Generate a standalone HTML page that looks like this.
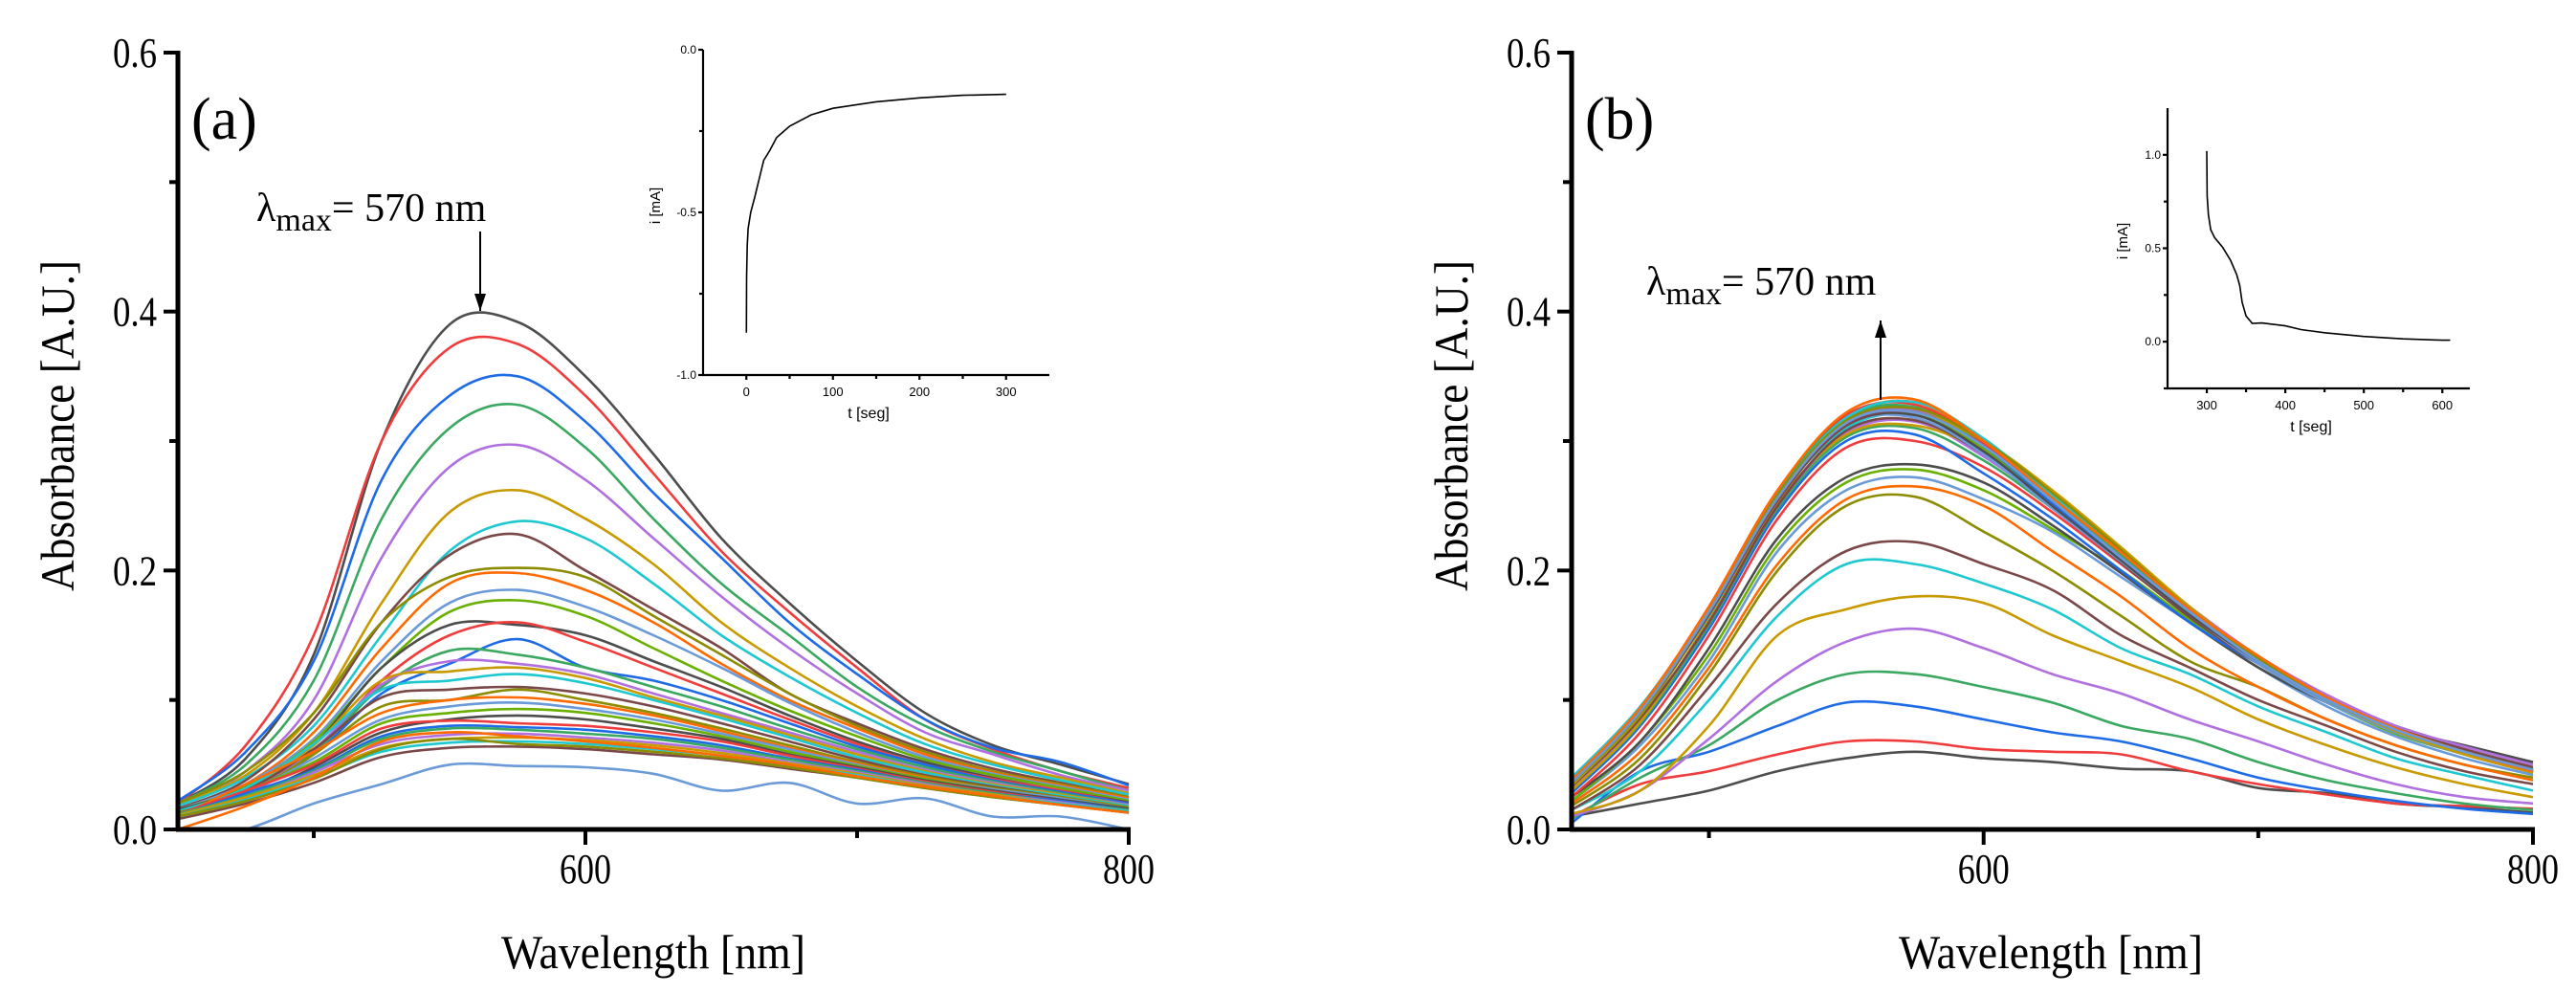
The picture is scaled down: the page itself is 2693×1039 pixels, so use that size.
<!DOCTYPE html>
<html><head><meta charset="utf-8">
<style>
html,body{margin:0;padding:0;background:#fff;}
svg{display:block;}
text{font-family:"Liberation Serif",serif;fill:#000;}
.sans{font-family:"Liberation Sans",sans-serif;}
</style></head>
<body>
<svg id="fig" width="2693" height="1039" viewBox="0 0 2693 1039" xmlns="http://www.w3.org/2000/svg">
<defs>
<clipPath id="clipA"><rect x="186" y="40" width="996" height="827"/></clipPath>
<clipPath id="clipB"><rect x="1643" y="40" width="1007" height="827"/></clipPath>
</defs>
<g id="panelA"></g>
<g id="panelB"></g>
<g id="insetA"></g>
<g id="insetB"></g>
</svg>
<script>
// ---------- data ----------
const wavelengths = [450,475,500,525,550,575,600,625,650,675,700,725,750,775,800];
const palette = ['#4d4d4d','#f03c3c','#1e6be8','#3aa860','#b070e0','#c89a00','#1ec8d0','#7a4848','#8c8c00','#ff6a00','#6a9ad8','#6ab000'];
const spectraA = [
[0.020,0.055,0.135,0.300,0.390,0.392,0.350,0.290,0.225,0.175,0.130,0.090,0.065,0.050,0.035],
[0.020,0.065,0.150,0.300,0.372,0.375,0.335,0.275,0.215,0.168,0.125,0.085,0.062,0.045,0.032],
[0.022,0.060,0.130,0.270,0.335,0.350,0.315,0.260,0.210,0.160,0.120,0.085,0.063,0.052,0.034],
[0.020,0.050,0.115,0.240,0.310,0.328,0.295,0.240,0.190,0.150,0.110,0.080,0.060,0.045,0.030],
[0.018,0.045,0.100,0.210,0.280,0.297,0.270,0.225,0.180,0.140,0.105,0.075,0.058,0.042,0.030],
[0.020,0.042,0.090,0.175,0.245,0.262,0.240,0.205,0.160,0.125,0.095,0.070,0.052,0.040,0.028],
[0.018,0.040,0.080,0.150,0.215,0.238,0.225,0.190,0.150,0.118,0.090,0.066,0.050,0.038,0.027],
[0.016,0.038,0.085,0.160,0.212,0.228,0.200,0.170,0.140,0.105,0.082,0.062,0.047,0.036,0.025],
[0.020,0.045,0.090,0.160,0.195,0.202,0.195,0.165,0.135,0.105,0.080,0.060,0.045,0.035,0.025],
[0.015,0.035,0.075,0.140,0.190,0.198,0.185,0.160,0.128,0.100,0.078,0.058,0.044,0.034,0.024],
[0.015,0.035,0.070,0.130,0.175,0.185,0.172,0.150,0.125,0.098,0.075,0.056,0.043,0.033,0.023],
[0.015,0.033,0.068,0.125,0.168,0.177,0.165,0.140,0.115,0.092,0.072,0.054,0.042,0.032,0.022],
[0.015,0.032,0.065,0.125,0.158,0.158,0.150,0.130,0.110,0.088,0.068,0.052,0.040,0.030,0.021],
[0.014,0.030,0.060,0.115,0.150,0.160,0.145,0.125,0.105,0.085,0.066,0.050,0.039,0.030,0.020],
[0.014,0.030,0.058,0.105,0.128,0.147,0.125,0.115,0.100,0.082,0.064,0.050,0.038,0.029,0.020],
[0.013,0.030,0.060,0.110,0.138,0.135,0.125,0.110,0.095,0.078,0.062,0.048,0.037,0.028,0.019],
[0.013,0.030,0.062,0.112,0.130,0.128,0.120,0.105,0.090,0.075,0.060,0.046,0.036,0.027,0.019],
[0.013,0.030,0.065,0.115,0.122,0.125,0.117,0.102,0.088,0.073,0.058,0.045,0.035,0.027,0.018],
[0.014,0.032,0.066,0.108,0.115,0.120,0.113,0.100,0.086,0.071,0.056,0.044,0.034,0.026,0.018],
[0.012,0.030,0.062,0.102,0.108,0.110,0.105,0.095,0.082,0.068,0.054,0.042,0.033,0.025,0.017],
[0.013,0.028,0.058,0.095,0.100,0.108,0.100,0.090,0.078,0.065,0.052,0.041,0.032,0.025,0.017],
[0.010,0.035,0.060,0.090,0.100,0.102,0.097,0.088,0.076,0.063,0.051,0.040,0.031,0.024,0.016],
[0.012,0.028,0.055,0.085,0.095,0.098,0.093,0.085,0.074,0.062,0.050,0.039,0.031,0.024,0.016],
[0.012,0.030,0.052,0.082,0.090,0.093,0.090,0.082,0.072,0.060,0.049,0.039,0.030,0.023,0.016],
[0.010,0.025,0.048,0.075,0.085,0.088,0.085,0.078,0.070,0.058,0.048,0.038,0.030,0.023,0.016],
[0.012,0.030,0.050,0.078,0.084,0.082,0.080,0.075,0.068,0.057,0.047,0.037,0.029,0.022,0.015],
[0.011,0.028,0.046,0.072,0.080,0.079,0.077,0.072,0.065,0.055,0.046,0.036,0.028,0.022,0.015],
[0.012,0.026,0.045,0.070,0.078,0.077,0.074,0.070,0.063,0.054,0.045,0.036,0.028,0.021,0.015],
[0.010,0.024,0.044,0.066,0.073,0.074,0.071,0.067,0.061,0.052,0.044,0.035,0.027,0.021,0.014],
[0.011,0.025,0.042,0.063,0.070,0.071,0.069,0.065,0.059,0.051,0.043,0.034,0.027,0.020,0.014],
[0.010,0.023,0.040,0.060,0.067,0.068,0.066,0.062,0.057,0.049,0.042,0.033,0.026,0.020,0.014],
[0.008,0.020,0.036,0.056,0.063,0.064,0.062,0.058,0.054,0.047,0.040,0.032,0.025,0.019,0.013],
[0.010,0.022,0.039,0.062,0.070,0.066,0.064,0.060,0.055,0.048,0.040,0.032,0.025,0.019,0.013],
[0.000,0.018,0.040,0.068,0.075,0.072,0.068,0.063,0.057,0.050,0.041,0.033,0.026,0.019,0.013],
[-0.010,0.000,0.020,0.035,0.050,0.049,0.048,0.043,0.030,0.036,0.020,0.024,0.010,0.010,0.000]
];
const spectraB = [
[0.010,0.020,0.030,0.045,0.055,0.060,0.055,0.052,0.047,0.045,0.032,0.028,0.020,0.017,0.013],
[0.010,0.035,0.045,0.058,0.068,0.068,0.062,0.060,0.058,0.045,0.035,0.027,0.020,0.018,0.016],
[0.005,0.045,0.060,0.080,0.098,0.095,0.085,0.075,0.068,0.055,0.040,0.030,0.022,0.016,0.012],
[0.008,0.040,0.065,0.100,0.120,0.120,0.110,0.098,0.080,0.070,0.052,0.038,0.028,0.020,0.015],
[0.010,0.030,0.070,0.115,0.145,0.155,0.140,0.120,0.105,0.085,0.068,0.050,0.035,0.025,0.020],
[0.012,0.030,0.080,0.150,0.170,0.180,0.175,0.150,0.130,0.110,0.085,0.065,0.048,0.035,0.025],
[0.015,0.045,0.100,0.165,0.205,0.205,0.190,0.170,0.140,0.120,0.095,0.075,0.055,0.042,0.030],
[0.015,0.050,0.110,0.175,0.215,0.222,0.205,0.185,0.150,0.125,0.100,0.080,0.060,0.045,0.035],
[0.018,0.055,0.120,0.200,0.250,0.257,0.230,0.200,0.165,0.130,0.110,0.085,0.065,0.050,0.040],
[0.020,0.060,0.125,0.205,0.255,0.265,0.250,0.215,0.180,0.140,0.110,0.085,0.065,0.050,0.038],
[0.022,0.065,0.130,0.215,0.262,0.272,0.255,0.230,0.195,0.160,0.125,0.095,0.072,0.055,0.042],
[0.022,0.068,0.135,0.220,0.268,0.278,0.262,0.232,0.200,0.162,0.128,0.098,0.074,0.058,0.044],
[0.025,0.068,0.140,0.225,0.272,0.282,0.268,0.235,0.198,0.160,0.125,0.098,0.078,0.065,0.052],
[0.025,0.075,0.150,0.240,0.295,0.300,0.280,0.245,0.205,0.165,0.130,0.100,0.077,0.060,0.045],
[0.028,0.080,0.155,0.245,0.300,0.305,0.275,0.240,0.200,0.160,0.128,0.100,0.077,0.060,0.046],
[0.030,0.082,0.158,0.248,0.303,0.310,0.285,0.248,0.207,0.166,0.130,0.100,0.077,0.060,0.046],
[0.032,0.085,0.160,0.250,0.306,0.315,0.288,0.250,0.208,0.165,0.128,0.100,0.078,0.062,0.047],
[0.030,0.083,0.162,0.252,0.305,0.312,0.292,0.255,0.212,0.168,0.130,0.098,0.076,0.058,0.044],
[0.035,0.090,0.165,0.255,0.310,0.320,0.292,0.252,0.212,0.165,0.128,0.098,0.075,0.058,0.045],
[0.033,0.086,0.160,0.250,0.308,0.316,0.290,0.250,0.206,0.164,0.128,0.099,0.077,0.060,0.046],
[0.034,0.088,0.166,0.256,0.312,0.322,0.296,0.258,0.214,0.170,0.132,0.100,0.077,0.059,0.045],
[0.036,0.092,0.170,0.260,0.318,0.330,0.298,0.252,0.210,0.168,0.130,0.100,0.076,0.058,0.044],
[0.035,0.090,0.166,0.255,0.312,0.318,0.290,0.248,0.207,0.166,0.128,0.098,0.075,0.058,0.045],
[0.036,0.091,0.170,0.258,0.315,0.322,0.294,0.254,0.212,0.168,0.131,0.100,0.077,0.060,0.046],
[0.038,0.092,0.168,0.255,0.312,0.320,0.292,0.250,0.208,0.166,0.130,0.101,0.080,0.064,0.052],
[0.036,0.093,0.172,0.262,0.320,0.328,0.298,0.256,0.214,0.170,0.134,0.102,0.078,0.060,0.045],
[0.036,0.090,0.168,0.256,0.314,0.324,0.296,0.252,0.210,0.168,0.130,0.100,0.076,0.058,0.044],
[0.037,0.092,0.170,0.260,0.318,0.326,0.296,0.254,0.212,0.168,0.132,0.100,0.077,0.060,0.046],
[0.035,0.090,0.168,0.258,0.316,0.324,0.300,0.258,0.214,0.172,0.134,0.104,0.080,0.064,0.050],
[0.034,0.089,0.166,0.256,0.314,0.322,0.300,0.262,0.218,0.172,0.132,0.100,0.076,0.058,0.044],
[0.040,0.095,0.170,0.258,0.318,0.330,0.302,0.258,0.215,0.170,0.132,0.101,0.078,0.060,0.046],
[0.036,0.090,0.166,0.254,0.312,0.322,0.296,0.254,0.210,0.168,0.130,0.100,0.078,0.062,0.048],
[0.035,0.090,0.168,0.258,0.316,0.325,0.300,0.260,0.216,0.170,0.132,0.100,0.077,0.060,0.046],
[0.038,0.094,0.172,0.262,0.322,0.332,0.300,0.256,0.214,0.170,0.134,0.102,0.078,0.060,0.045],
[0.036,0.091,0.168,0.256,0.314,0.322,0.296,0.254,0.210,0.168,0.130,0.100,0.077,0.060,0.046]
];
const yTicksMain = [0.0,0.2,0.4,0.6];
const yMinorMain = [0.1,0.3,0.5];
const xTicksMain = [600,800];
const xMinorMain = [500,700];
// inset (a) chronoamperogram
const insetATime = [0,0.3,1,2,5,10,20,27,35,50,75,100,150,200,250,300];
const insetACurrent = [-0.87,-0.70,-0.60,-0.55,-0.50,-0.45,-0.34,-0.31,-0.27,-0.235,-0.20,-0.18,-0.16,-0.148,-0.14,-0.137];
const insetAXTicks = [0,100,200,300];
const insetAYTicks = [0.0,-0.5,-1.0];
// inset (b) chronoamperogram
const insetBTime = [300,300.5,302,305,310,320,330,338,342,345,350,358,370,400,420,450,500,550,600,610];
const insetBCurrent = [1.02,0.78,0.68,0.60,0.557,0.506,0.437,0.36,0.30,0.21,0.137,0.098,0.10,0.085,0.065,0.048,0.028,0.015,0.008,0.008];
const insetBXTicks = [300,400,500,600];
const insetBYTicks = [0.0,0.5,1.0];

// ---------- helpers ----------
const NS='http://www.w3.org/2000/svg';
function mk(tag, attrs, parent){const e=document.createElementNS(NS,tag);for(const k in attrs)e.setAttribute(k,attrs[k]);parent.appendChild(e);return e;}
function smoothPath(pts){
  let d='M'+pts[0][0].toFixed(1)+','+pts[0][1].toFixed(1);
  for(let i=0;i<pts.length-1;i++){
    const p0=pts[Math.max(0,i-1)],p1=pts[i],p2=pts[i+1],p3=pts[Math.min(pts.length-1,i+2)];
    const c1=[p1[0]+(p2[0]-p0[0])/6,p1[1]+(p2[1]-p0[1])/6];
    const c2=[p2[0]-(p3[0]-p1[0])/6,p2[1]-(p3[1]-p1[1])/6];
    d+=' C'+c1[0].toFixed(1)+','+c1[1].toFixed(1)+' '+c2[0].toFixed(1)+','+c2[1].toFixed(1)+' '+p2[0].toFixed(1)+','+p2[1].toFixed(1);
  }
  return d;
}

function drawMain(g, cfg, spectra, label, lx, ly, arrowDir){
  const xs=v=>cfg.x0+(v-450)/(800-450)*(cfg.x1-cfg.x0);
  const ys=v=>cfg.y0-(v/0.6)*(cfg.y0-cfg.y6);
  const lines=mk('g',{'clip-path':'url(#'+cfg.clip+')'},g);
  
  
  spectra.forEach((s,i)=>{
    const pts=s.map((v,j)=>[xs(wavelengths[j]),ys(v)]);
    const p=mk('path',{d:smoothPath(pts),fill:'none',stroke:palette[i%palette.length],'stroke-width':2.6,'stroke-linejoin':'round'},lines);
    
    
  });
  const ax=mk('g',{stroke:'#000','stroke-width':5,fill:'none'},g);
  
  
  mk('line',{x1:cfg.x0,y1:cfg.y6-2,x2:cfg.x0,y2:cfg.y0+2},ax);
  mk('line',{x1:cfg.x0-2,y1:cfg.y0,x2:cfg.x1+2,y2:cfg.y0},ax);
  yTicksMain.forEach(v=>{
    mk('line',{x1:cfg.x0-15,y1:ys(v),x2:cfg.x0,y2:ys(v),'stroke-width':4},ax);
    const t=mk('text',{x:cfg.x0-22,y:ys(v)+15,'font-size':44,'text-anchor':'end',textLength:46,lengthAdjust:'spacingAndGlyphs'},g);
    t.textContent=v.toFixed(1);
    
    
  });
  yMinorMain.forEach(v=>mk('line',{x1:cfg.x0-9,y1:ys(v),x2:cfg.x0,y2:ys(v),'stroke-width':4},ax));
  xTicksMain.forEach(v=>{
    mk('line',{x1:xs(v),y1:cfg.y0,x2:xs(v),y2:cfg.y0+16,'stroke-width':4},ax);
    const t=mk('text',{x:xs(v),y:cfg.y0+56,'font-size':44,'text-anchor':'middle',textLength:54,lengthAdjust:'spacingAndGlyphs'},g);
    t.textContent=String(v);
    
    
  });
  xMinorMain.forEach(v=>mk('line',{x1:xs(v),y1:cfg.y0,x2:xs(v),y2:cfg.y0+9,'stroke-width':4},ax));
  const xt=mk('text',{x:cfg.xtx,y:1012,'font-size':50,textLength:318,lengthAdjust:'spacingAndGlyphs'},g);
  xt.textContent='Wavelength [nm]';
  
  
  const yt=mk('text',{x:0,y:0,'font-size':50,'text-anchor':'middle',textLength:346,lengthAdjust:'spacingAndGlyphs',transform:'translate('+cfg.ytx+',445) rotate(-90)'},g);
  yt.textContent='Absorbance [A.U.]';
  
  
  const pl=mk('text',{x:cfg.plx,y:145,'font-size':62},g);
  pl.textContent=label;
  
  
  const lt=mk('text',{x:lx,y:ly,'font-size':42},g);
  
  
  const t1=mk('tspan',{},lt);t1.textContent='λ';
  const t2=mk('tspan',{dy:10,'font-size':34},lt);t2.textContent='max';
  const t3=mk('tspan',{dy:-10},lt);t3.textContent='= 570 nm';
  const arr=mk('g',{},g);
  
  
  const a=cfg.arrow;
  mk('line',{x1:a.x,y1:a.y1,x2:a.x,y2:a.y2,stroke:'#000','stroke-width':2},arr);
  if(arrowDir==='down') mk('polygon',{points:(a.x-6)+','+(a.y2-18)+' '+(a.x+6)+','+(a.y2-18)+' '+a.x+','+a.y2,fill:'#000'},arr);
  else mk('polygon',{points:(a.x-6)+','+(a.y1+18)+' '+(a.x+6)+','+(a.y1+18)+' '+a.x+','+a.y1,fill:'#000'},arr);
}

function drawInset(g, c, times, vals, xt, yt, xminor, yminor){
  const xs=v=>c.x0+(v-c.tmin)/(c.tmax-c.tmin)*(c.x1-c.x0);
  const ys=v=>c.yb-(v-c.vmin)/(c.vmax-c.vmin)*(c.yb-c.yt);
  const ax=mk('g',{stroke:'#000','stroke-width':2.2},g);
  
  
  mk('line',{x1:c.x0,y1:c.yt,x2:c.x0,y2:c.yb+1},ax);
  mk('line',{x1:c.x0-1,y1:c.yb,x2:c.x1,y2:c.yb},ax);
  xt.forEach(v=>{
    mk('line',{x1:xs(v),y1:c.yb,x2:xs(v),y2:c.yb+5},ax);
    const t=mk('text',{x:xs(v),y:c.yb+22,'font-size':13,'text-anchor':'middle',class:'sans'},g);
    t.textContent=String(v);
    
    
  });
  xminor.forEach(v=>mk('line',{x1:xs(v),y1:c.yb,x2:xs(v),y2:c.yb+4},ax));
  yt.forEach(v=>{
    mk('line',{x1:c.x0-5,y1:ys(v),x2:c.x0,y2:ys(v)},ax);
    const t=mk('text',{x:c.x0-7,y:ys(v)+4,'font-size':12,'text-anchor':'end',class:'sans'},g);
    t.textContent=v.toFixed(1);
    
    
  });
  yminor.forEach(v=>mk('line',{x1:c.x0-4,y1:ys(v),x2:c.x0,y2:ys(v)},ax));
  const pts=times.map((t,i)=>xs(t).toFixed(1)+','+ys(vals[i]).toFixed(1)).join(' ');
  const pl=mk('polyline',{points:pts,fill:'none',stroke:'#000','stroke-width':1.6},g);
  
  
  const xl=mk('text',{x:(c.x0+c.x1)/2-8,y:c.yb+45,'font-size':16,'text-anchor':'middle',class:'sans'},g);
  xl.textContent='t [seg]';
  
  
  const yl=mk('text',{x:0,y:0,'font-size':15,'text-anchor':'middle',class:'sans',transform:'translate('+c.ylx+','+c.yly+') rotate(-90)'},g);
  yl.textContent='i [mA]';
  
  
}

drawMain(document.getElementById('panelA'),
  {x0:186,x1:1180,y0:867,y6:55,clip:'clipA',xtx:524,ytx:77,plx:200,arrow:{x:502,y1:242,y2:325}},
  spectraA,'(a)',268,231,'down');
drawMain(document.getElementById('panelB'),
  {x0:1643,x1:2648,y0:867,y6:55,clip:'clipB',xtx:1985,ytx:1534,plx:1657,arrow:{x:1966,y1:335,y2:418}},
  spectraB,'(b)',1721,308,'up');
drawInset(document.getElementById('insetA'),
  {x0:735,x1:1097,yt:52,yb:392,tmin:-50,tmax:350,vmin:-1.0,vmax:0.0,ylx:690,yly:215},
  insetATime,insetACurrent,insetAXTicks,insetAYTicks,[50,150,250],[-0.25,-0.75]);
drawInset(document.getElementById('insetB'),
  {x0:2266,x1:2582,yt:113,yb:406,tmin:250,tmax:635,vmin:-0.25,vmax:1.25,ylx:2224,yly:252},
  insetBTime,insetBCurrent,insetBXTicks,insetBYTicks,[350,450,550],[0.25,0.75,-0.25]);
</script>
</body></html>
